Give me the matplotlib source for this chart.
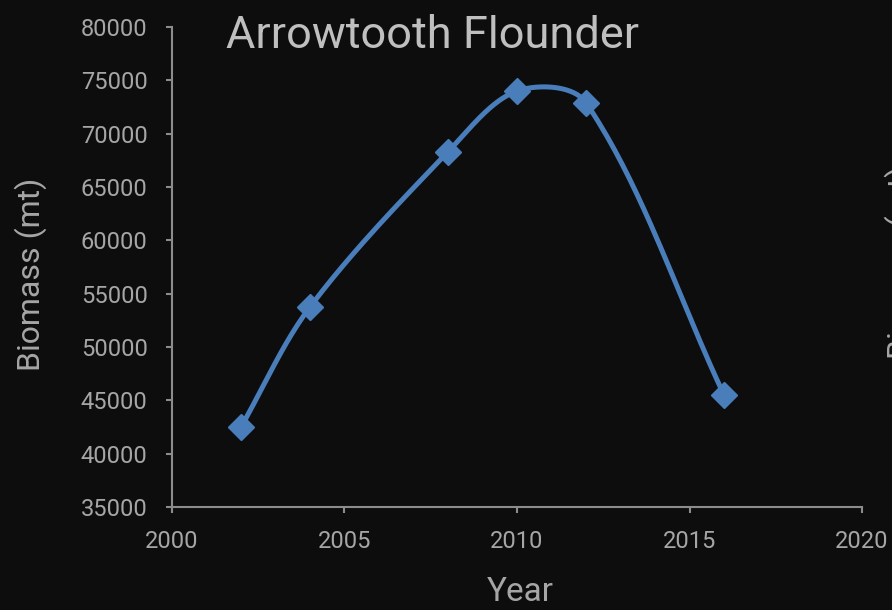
import numpy as np
import matplotlib
matplotlib.use("Agg")
import matplotlib.pyplot as plt

years = [2002, 2004, 2008, 2010, 2012, 2016]
biomass = [42500, 53750, 68300, 74000, 72900, 45500]
yticks = [35000, 40000, 45000, 50000, 55000, 60000, 65000, 70000, 75000, 80000]
xticks = [2000, 2005, 2010, 2015, 2020]

bg = '#0d0d0d'
txt = '#a6a6a6'
line_col = '#4a7ebb'

plt.rcParams['font.family'] = ['Liberation Sans Narrow', 'Roboto', 'DejaVu Sans']


def smooth(pts, n=40):
    # smoothed line through points (bezier arms scaled by neighbour distances),
    # works on display coords so the shape matches the screen
    p = np.r_[pts[:1], pts, pts[-1:]]
    out = []
    for i in range(1, len(p) - 2):
        p0, p1, p2, p3 = p[i - 1], p[i], p[i + 1], p[i + 2]
        d0 = np.hypot(*(p1 - p0))
        d1 = np.hypot(*(p2 - p1))
        d2 = np.hypot(*(p3 - p2))
        c1 = p1 + (p2 - p0) * (d1 / max(d0 + d1, 1e-9)) / 3
        c2 = p2 - (p3 - p1) * (d1 / max(d1 + d2, 1e-9)) / 3
        t = np.linspace(0, 1, n)[:, None]
        seg = ((1 - t) ** 3 * p1 + 3 * t * (1 - t) ** 2 * c1
               + 3 * t ** 2 * (1 - t) * c2 + t ** 3 * p2)
        out.append(seg)
    return np.vstack(out)


fig = plt.figure(figsize=(8.92, 6.10), dpi=100, facecolor=bg)
ax = fig.add_axes([0.1928, 0.1689, 0.7736, 0.7868], facecolor=bg)
ax.set_xlim(2000, 2020)
ax.set_ylim(35000, 80000)

disp = ax.transData.transform(np.column_stack([years, biomass]))
curve = ax.transData.inverted().transform(smooth(disp))
ax.plot(curve[:, 0], curve[:, 1], color=line_col, lw=3.6, solid_capstyle='round')
ax.plot(years, biomass, linestyle='none', marker='D', ms=13, color=line_col)

ax.set_xticks(xticks)
ax.set_yticks(yticks)
ax.tick_params(colors='#8c8c8c', labelcolor=txt, labelsize=17, length=4.5, width=1.5)
ax.tick_params(axis='x', pad=12)
ax.tick_params(axis='y', pad=13)
for s in ['top', 'right']:
    ax.spines[s].set_visible(False)
for s in ['left', 'bottom']:
    ax.spines[s].set_color('#8c8c8c')
    ax.spines[s].set_linewidth(1.5)

fig.text(0.2534, 0.921, 'Arrowtooth Flounder', color='#bfbfbf', fontsize=32.5,
         va='baseline', ha='left')
fig.text(0.034, 0.55, 'Biomass (mt)', color=txt, fontsize=23, rotation=90,
         ha='center', va='center')
fig.text(0.583, 0.029, 'Year', color=txt, fontsize=24, ha='center', va='center')
# neighbouring chart's axis label, cut off at the right edge
fig.text(1.01, 0.57, 'Biomass (mt)', color=txt, fontsize=23, rotation=90,
         ha='center', va='center')

fig.savefig('out.png', dpi=100, facecolor=bg)
